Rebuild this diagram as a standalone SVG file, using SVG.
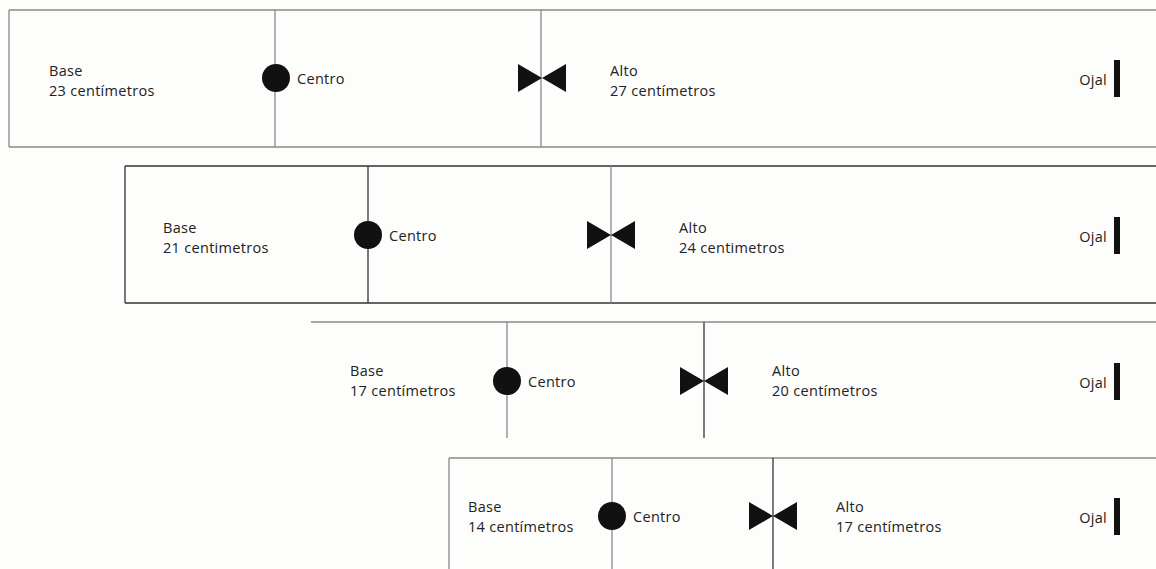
<svg xmlns="http://www.w3.org/2000/svg" width="1156" height="569" viewBox="0 0 1156 569">
<defs>
<style>
.t{font-family:"Open Sans","Liberation Sans",sans-serif;font-size:14.5px;letter-spacing:0.3px;fill:#222}
.e{text-anchor:end}
.lg{stroke:#8a8a8a;stroke-width:1.3;fill:none}
.ld{stroke:#333;stroke-width:1.3;fill:none}
.f{fill:#111}
</style>
<g id="bow"><polygon points="-24,-14 -24,14 0,0"/><polygon points="24,-14 24,14 0,0"/></g>
</defs>
<rect width="1156" height="569" fill="#fdfdfb"/>
<g id="connectors">
<path class="lg" d="M9,10H1156M9,10V147M9,147H1156M275,10V147M541,10V147"/>
<path class="ld" d="M125,166H1156M125,166V303M125,303H1156"/>
<path class="ld" d="M368,166V303"/>
<path class="lg" d="M611,166V303"/>
<path class="lg" d="M311,322H1156M507,322V438"/>
<path class="ld" d="M704,322V438"/>
<path class="lg" d="M449,458H1156M449,458V569M612,458V569"/>
<path class="ld" d="M773,458V569"/>
</g>
<g id="row1">
<text class="t" x="49" y="76">Base</text><text class="t" x="49" y="96">23 centímetros</text>
<circle class="f" cx="276" cy="78" r="14"/><text class="t" x="297" y="84">Centro</text>
<use href="#bow" x="542" y="78" class="f"/>
<text class="t" x="610" y="76">Alto</text><text class="t" x="610" y="96">27 centímetros</text>
<text class="t e" x="1107" y="85">Ojal</text><rect class="f" x="1114" y="60" width="6" height="37"/>
</g>
<g id="row2">
<text class="t" x="163" y="233">Base</text><text class="t" x="163" y="253">21 centimetros</text>
<circle class="f" cx="368" cy="235" r="14"/><text class="t" x="389" y="241">Centro</text>
<use href="#bow" x="611" y="235" class="f"/>
<text class="t" x="679" y="233">Alto</text><text class="t" x="679" y="253">24 centimetros</text>
<text class="t e" x="1107" y="242">Ojal</text><rect class="f" x="1114" y="217" width="6" height="37"/>
</g>
<g id="row3">
<text class="t" x="350" y="376">Base</text><text class="t" x="350" y="396">17 centímetros</text>
<circle class="f" cx="507" cy="381" r="14"/><text class="t" x="528" y="387">Centro</text>
<use href="#bow" x="704" y="381" class="f"/>
<text class="t" x="772" y="376">Alto</text><text class="t" x="772" y="396">20 centímetros</text>
<text class="t e" x="1107" y="388">Ojal</text><rect class="f" x="1114" y="363" width="6" height="37"/>
</g>
<g id="row4">
<text class="t" x="468" y="512">Base</text><text class="t" x="468" y="532">14 centímetros</text>
<circle class="f" cx="612" cy="516" r="14"/><text class="t" x="633" y="522">Centro</text>
<use href="#bow" x="773" y="516" class="f"/>
<text class="t" x="836" y="512">Alto</text><text class="t" x="836" y="532">17 centímetros</text>
<text class="t e" x="1107" y="523">Ojal</text><rect class="f" x="1114" y="498" width="6" height="37"/>
</g>
</svg>
